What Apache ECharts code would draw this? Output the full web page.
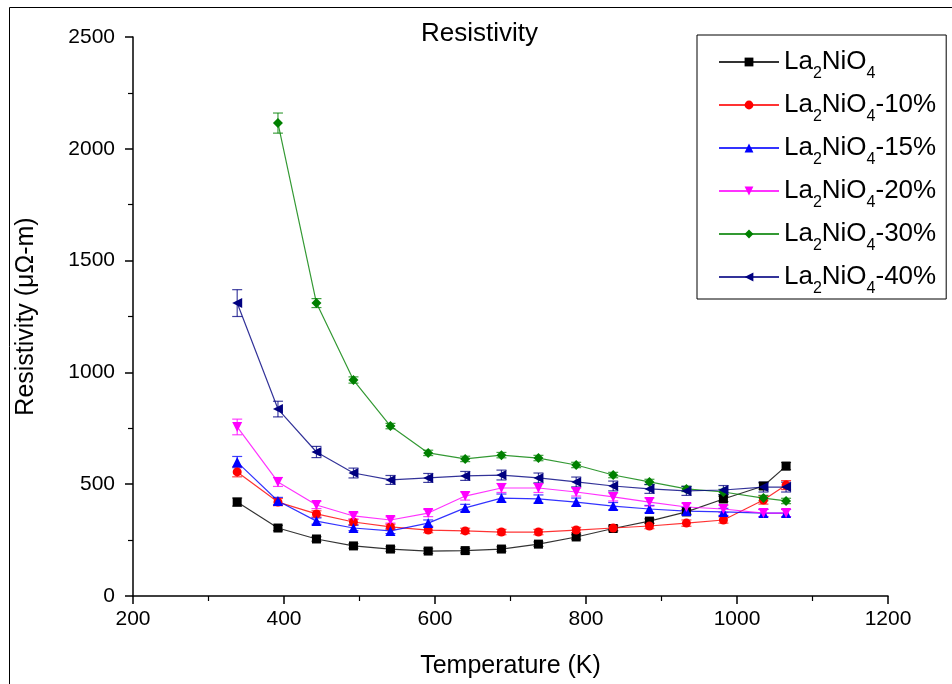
<!DOCTYPE html>
<html>
<head>
<meta charset="utf-8">
<script src="https://cdn.jsdelivr.net/npm/echarts@6/dist/echarts.min.js"></script>
<style>html,body{margin:0;padding:0;background:#fff}#c{width:952px;height:684px}</style>
</head>
<body>
<div id="c"></div>
<script>
const temps = [338, 392, 443, 492, 541, 591, 640, 688, 737, 787, 836, 884, 933, 982, 1035, 1065];

const s0  = [420, 304, 255, 224, 210, 201, 203, 210, 232, 264, 302, 335, 376, 434, 492, 581];
const s10 = [555, 420, 367, 331, 309, 295, 291, 286, 286, 295, 304, 313, 326, 340, 429, 496];
const s15 = [599, 425, 335, 304, 291, 326, 394, 438, 434, 420, 402, 389, 380, 376, 371, 371];
const s20 = [756, 510, 407, 358, 340, 371, 447, 483, 483, 465, 443, 420, 398, 389, 371, 371];
const s30 = [null, 2115, 1310, 966, 760, 640, 613, 630, 617, 586, 541, 510, 479, 465, 438, 425];
const s40 = [1310, 836, 644, 550, 519, 528, 537, 541, 528, 510, 492, 479, 470, 474, 487, 487];

const e0  = [18, 12, 10, 10, 10, 10, 10, 10, 10, 10, 10, 10, 10, 12, 14, 16];
const e10 = [22, 16, 14, 12, 12, 12, 12, 12, 12, 12, 12, 12, 14, 14, 18, 20];
const e15 = [25, 16, 14, 12, 12, 14, 16, 18, 18, 18, 16, 16, 16, 16, 16, 16];
const e20 = [35, 20, 16, 14, 14, 16, 18, 20, 20, 18, 18, 18, 16, 16, 16, 16];
const e30 = [null, 45, 20, 14, 12, 12, 12, 12, 12, 12, 12, 12, 12, 12, 12, 12];
const e40 = [60, 35, 25, 22, 20, 20, 20, 22, 22, 22, 22, 20, 20, 20, 22, 22];

const seriesNames = ['La2NiO4', 'La2NiO4-10%', 'La2NiO4-15%', 'La2NiO4-20%', 'La2NiO4-30%', 'La2NiO4-40%'];
const seriesValues = [s0, s10, s15, s20, s30, s40];
const seriesErrors = [e0, e10, e15, e20, e30, e40];
const colors = ['#000000', '#ff0000', '#0000ff', '#ff00ff', '#008000', '#000080'];
const symbols = ['rect', 'circle', 'triangle', 'triangle', 'diamond', 'triangle'];
const rotates = [0, 0, 0, 180, 0, 90];
const sizes = [9, 9, 10, 10, 10, 10];

const xTicks = [200, 400, 600, 800, 1000, 1200];
const yTicks = [0, 500, 1000, 1500, 2000, 2500];

const FONT = 'Liberation Sans';

const series = [];
seriesNames.forEach((name, i) => {
  const vals = seriesValues[i];
  const errs = seriesErrors[i];
  const errData = [];
  temps.forEach((t, k) => {
    if (vals[k] != null) errData.push([t, vals[k] - errs[k], vals[k] + errs[k]]);
  });
  series.push({
    type: 'custom',
    name: name + '_err',
    data: errData,
    z: 2,
    silent: true,
    renderItem: function (params, api) {
      const x = api.value(0);
      const lo = api.coord([x, api.value(1)]);
      const hi = api.coord([x, api.value(2)]);
      const hw = 5;
      const st = { stroke: colors[i], lineWidth: 1.2, opacity: 0.75 };
      return {
        type: 'group',
        children: [
          { type: 'line', shape: { x1: lo[0], y1: lo[1], x2: hi[0], y2: hi[1] }, style: st },
          { type: 'line', shape: { x1: lo[0] - hw, y1: lo[1], x2: lo[0] + hw, y2: lo[1] }, style: st },
          { type: 'line', shape: { x1: hi[0] - hw, y1: hi[1], x2: hi[0] + hw, y2: hi[1] }, style: st }
        ]
      };
    }
  });
  const data = [];
  temps.forEach((t, k) => { if (vals[k] != null) data.push([t, vals[k]]); });
  series.push({
    type: 'line',
    name: name,
    data: data,
    z: 3,
    symbol: symbols[i],
    symbolRotate: rotates[i],
    symbolSize: sizes[i],
    showAllSymbol: true,
    color: colors[i],
    lineStyle: { width: 1.2, color: colors[i], opacity: 0.8 },
    itemStyle: { color: colors[i] }
  });
});

const chart = echarts.init(document.getElementById('c'), null, { renderer: 'canvas' });
chart.setOption({
  animation: false,
  backgroundColor: '#fff',
  textStyle: { fontFamily: FONT },
  title: {
    text: 'Resistivity',
    left: 416, top: 16,
    textStyle: { fontFamily: FONT, fontSize: 26, fontWeight: 'normal', color: '#000' }
  },
  graphic: [{
    type: 'rect', left: 7, top: 5, silent: true,
    shape: { width: 943, height: 720 },
    style: { fill: 'none', stroke: '#000', lineWidth: 1 }
  }],
  grid: { left: 133, right: 64, top: 37, bottom: 88, containLabel: false },
  legend: {
    data: seriesNames,
    orient: 'vertical',
    left: 697, top: 35,
    padding: [7, 10, 2, 21],
    itemGap: 3,
    itemWidth: 60,
    itemHeight: 11,
    backgroundColor: '#fff',
    borderColor: '#000',
    borderWidth: 1,
    borderRadius: 0,
    formatter: function (n) {
      const suf = n.substring(7);
      return '{m|La}{s|2}{m|NiO}{s|4}' + (suf ? '{m|' + suf + '}' : '');
    },
    textStyle: {
      fontFamily: FONT, fontSize: 26, color: '#000', lineHeight: 40,
      rich: {
        m: { fontFamily: FONT, fontSize: 26, lineHeight: 40, verticalAlign: 'middle', color: '#000' },
        s: { fontFamily: FONT, fontSize: 16, lineHeight: 9, verticalAlign: 'bottom', color: '#000' }
      }
    }
  },
  xAxis: {
    type: 'value',
    min: 200, max: 1200, interval: 200,
    name: 'Temperature (K)',
    nameLocation: 'middle', nameGap: 58,
    nameTextStyle: { fontFamily: FONT, fontSize: 25, color: '#000' },
    axisLine: { onZero: false, lineStyle: { color: '#000', width: 1.5 } },
    axisTick: { inside: false, length: 8, lineStyle: { color: '#000', width: 1.5 } },
    minorTick: { show: true, splitNumber: 2, length: 5, lineStyle: { color: '#000', width: 1.2 } },
    axisLabel: { fontFamily: FONT, fontSize: 21, color: '#000', margin: 13, formatter: v => String(v) },
    splitLine: { show: false }
  },
  yAxis: {
    type: 'value',
    min: 0, max: 2500, interval: 500,
    name: 'Resistivity (μΩ-m)',
    nameLocation: 'middle', nameGap: 94,
    nameTextStyle: { fontFamily: FONT, fontSize: 25, color: '#000' },
    axisLine: { show: true, onZero: false, lineStyle: { color: '#000', width: 1.5 } },
    axisTick: { show: true, inside: false, length: 8, lineStyle: { color: '#000', width: 1.5 } },
    minorTick: { show: true, splitNumber: 2, length: 5, lineStyle: { color: '#000', width: 1.2 } },
    axisLabel: { fontFamily: FONT, fontSize: 21, color: '#000', margin: 18, formatter: v => String(v) },
    splitLine: { show: false }
  },
  series: series
});
</script>
</body>
</html>
